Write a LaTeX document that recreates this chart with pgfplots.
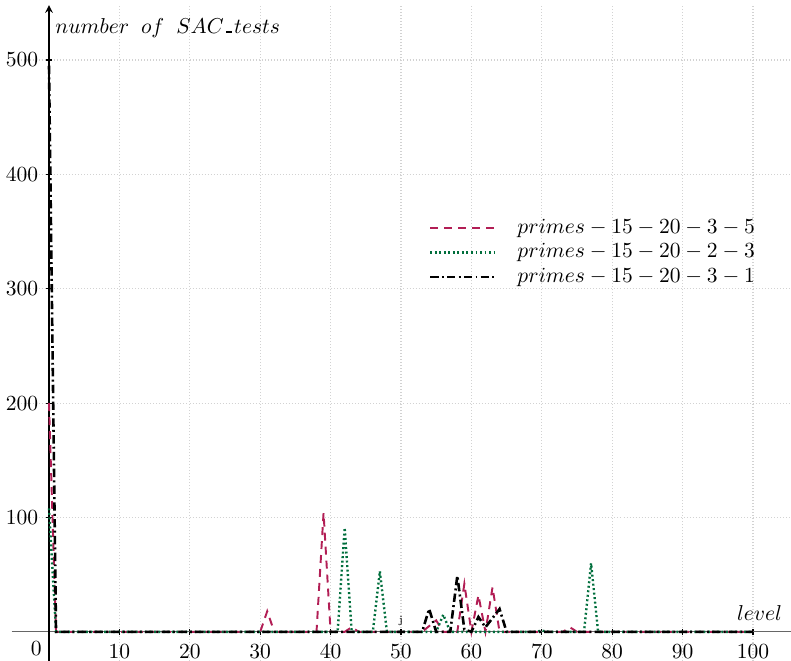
\documentclass[border=0pt]{standalone}
\usepackage{pgfplots}
\pgfplotsset{compat=1.18}
\definecolor{cred}{RGB}{178,30,85}
\definecolor{cgreen}{RGB}{0,110,60}
\begin{document}
\begin{tikzpicture}
\begin{axis}[
  scale only axis,
  width=362pt, height=304.6pt,
  xmin=-5.3, xmax=105.4, ymin=-25.4, ymax=548,
  axis x line=middle, axis y line=middle,
  x axis line style={-, gray!80!black, line width=0.6pt},
  y axis line style={-stealth, black, line width=0.6pt},
  xtick={10,20,...,100}, ytick={100,200,...,500},
  tick style={black, line width=0.5pt},
  major tick length=3pt,
  grid=major,
  grid style={densely dotted, gray!35, line width=0.5pt},
  xticklabel style={anchor=north, yshift=-1pt},
  yticklabel style={anchor=east, xshift=0pt},
  legend style={draw=none, fill=none, at={(axis cs:53.0,369.0)}, anchor=north west,
    column sep=8pt, row sep=-0.6pt, font=\normalsize},
  legend cell align=left,
  legend image code/.code={\draw[#1] (0cm,0cm) -- (1.05cm,0cm);},
  clip=false,
]
\addplot[cred, line width=0.9pt, dash pattern=on 3.7pt off 2.8pt] coordinates {
(0,200)(1,0)(30,0)(31,18)(32,0)(38,0)(39,104)(40,0)(42,0)(43,4)(44,0)
(53,0)(54,5)(55,10)(56,0)(58,0)(59,42)(60,0)(61,32)(62,0)(63,39)(64,0)
(73,0)(74,4)(75,0)(100,0)};
\addlegendentry{$primes-15-20-3-5$}
\addplot[cgreen, line width=1.1pt, dash pattern=on 0.9pt off 1.2pt] coordinates {
(0,108)(1,0)(41,0)(42,91)(43,0)(46,0)(47,53)(48,0)(55,0)(56,15)(57,0)
(69,0)(70,1)(71,0)(76,0)(77,60)(78,0)(100,0)};
\addlegendentry{$primes-15-20-2-3$}
\addplot[black, line width=1.2pt, dash pattern=on 3.9pt off 1.5pt on 0.9pt off 1.5pt] coordinates {
(0,495)(1,0)(53,0)(54,20)(55,0)(57,0)(58,49)(59,2)(60,0)(61,13)(62,4)(64,20)(65,0)(100,0)};
\addlegendentry{$primes-15-20-3-1$}
\node[anchor=base west, inner sep=0pt] at (axis cs:0.85,523.6) {$number\mkern10mu of\mkern10mu SAC\mkern2mu\rule{2.6pt}{0.9pt}\mkern2mu tests$};
\node[anchor=base east] at (axis cs:105.2,9.6) {$level$};
\node at (axis cs:-1.8,-15) {$0$};
\node at (axis cs:50,9.5) {\tiny j};
\coordinate (ll) at (axis cs:-6.96,-25.4);
\coordinate (ur) at (axis cs:105.4,552.5);
\end{axis}
\pgfresetboundingbox
\path[use as bounding box] (ll) rectangle (ur);
\end{tikzpicture}
\end{document}
